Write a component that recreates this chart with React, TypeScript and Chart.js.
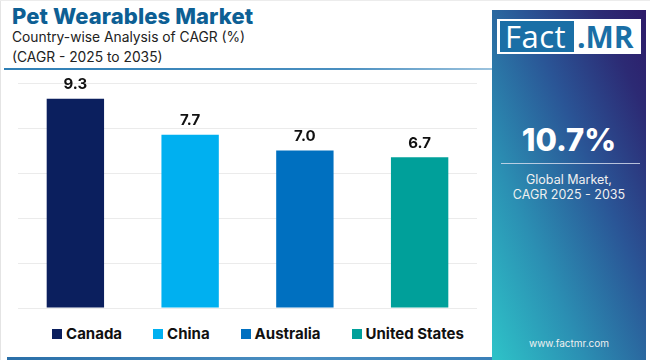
import React, { useEffect, useRef } from "react";
import { Chart, registerables } from "chart.js";

Chart.register(...registerables);

const categories = ["Canada", "China", "Australia", "United States"];
const cagrValues = [9.3, 7.7, 7.0, 6.7];
const barColors = ["#0b1f5e", "#00b0f0", "#0070c0", "#00a09a"];
const yTicks = [0, 2, 4, 6, 8, 10];
const globalCagr = "10.7%";

const FONT = "Inter, 'Open Sans', sans-serif";

const valueLabelPlugin = {
  id: "valueLabels",
  afterDatasetsDraw(chart: any) {
    const { ctx } = chart;
    const meta = chart.getDatasetMeta(0);
    ctx.save();
    ctx.font = `bold 15px ${FONT}`;
    ctx.fillStyle = "#111111";
    ctx.textAlign = "center";
    ctx.textBaseline = "middle";
    meta.data.forEach((bar: any, i: number) => {
      const v = chart.data.datasets[0].data[i] as number;
      ctx.fillText(v.toFixed(1), bar.x, bar.y - 14);
    });
    ctx.restore();
  },
};

export default function App() {
  const canvasRef = useRef<HTMLCanvasElement | null>(null);

  useEffect(() => {
    if (!canvasRef.current) return;
    const chart = new Chart(canvasRef.current, {
      type: "bar",
      data: {
        labels: categories,
        datasets: [
          {
            label: "CAGR",
            data: cagrValues,
            backgroundColor: barColors,
            borderWidth: 0,
            categoryPercentage: 1,
            barPercentage: 0.5,
          },
        ],
      },
      options: {
        animation: false,
        responsive: false,
        layout: { padding: { top: 83, bottom: 12, left: 18, right: 13 } },
        plugins: {
          legend: { display: false },
          tooltip: { enabled: false },
        },
        scales: {
          x: { display: false },
          y: {
            min: yTicks[0],
            max: yTicks[yTicks.length - 1],
            afterBuildTicks: (axis: any) => {
              axis.ticks = yTicks.map((v) => ({ value: v }));
            },
            afterFit: (axis: any) => {
              axis.width = 0;
            },
            ticks: { display: false },
            grid: { color: "#ebebeb", drawTicks: false, lineWidth: 1 },
            border: { display: false },
          },
        },
      },
      plugins: [valueLabelPlugin],
    });
    return () => chart.destroy();
  }, []);

  return (
    <div
      style={{
        position: "fixed",
        left: 0,
        top: 0,
        width: 650,
        height: 360,
        background: "#ffffff",
        overflow: "hidden",
        fontFamily: FONT,
      }}
    >
      <div style={{ position: "absolute", left: 0, top: 0, width: 1, height: 360, background: "#e4e4e4" }} />
      <div style={{ position: "absolute", left: 0, top: 0, width: 650, height: 1, background: "#ececec" }} />
      <div
        style={{
          position: "absolute",
          left: 12,
          top: 3,
          fontSize: 22,
          fontWeight: 800,
          color: "#0d5f94",
          whiteSpace: "nowrap",
          letterSpacing: 0.1,
        }}
      >
        Pet Wearables Market
      </div>
      <div
        style={{
          position: "absolute",
          left: 12,
          top: 27,
          fontSize: 13.8,
          lineHeight: "20px",
          color: "#222222",
          whiteSpace: "nowrap",
        }}
      >
        Country-wise Analysis of CAGR (%)
        <br />
        (CAGR - 2025 to 2035)
      </div>
      <div
        style={{
          position: "absolute",
          left: 4,
          top: 68,
          width: 488,
          height: 2,
          background: "linear-gradient(to right, #2f7fb5, #4a8fc0 70%, #9cc3de)",
        }}
      />
      <canvas
        ref={canvasRef}
        width={490}
        height={320}
        style={{ position: "absolute", left: 0, top: 0, width: 490, height: 320 }}
      />
      <div
        style={{
          position: "absolute",
          left: 0,
          width: 516,
          top: 324,
          display: "flex",
          justifyContent: "center",
          gap: 31,
          fontSize: 15,
          fontWeight: 700,
          color: "#111111",
          whiteSpace: "nowrap",
        }}
      >
        {categories.map((c, i) => (
          <div key={c} style={{ display: "flex", alignItems: "center", gap: 4, height: 18 }}>
            <span style={{ width: 10, height: 10, background: barColors[i], display: "inline-block", marginTop: 1 }} />
            <span>{c}</span>
          </div>
        ))}
      </div>
      <div
        style={{
          position: "absolute",
          left: 7,
          top: 357,
          width: 486,
          height: 3,
          background: "linear-gradient(to right, #2a6fa8, #4b8fc2 60%, #3a7fb8)",
        }}
      />
      <div
        style={{
          position: "absolute",
          left: 492,
          top: 10,
          width: 154,
          height: 350,
          background:
            "linear-gradient(to top right, #2ec3c8 0%, #2b8fb3 30%, #2a5596 60%, #2c2a74 85%, #2d1b69 100%)",
        }}
      >
        <div
          style={{
            position: "absolute",
            left: 5,
            top: 9,
            width: 144,
            height: 35,
            background: "#ffffff",
          }}
        >
          <div
            style={{
              position: "absolute",
              left: 3,
              top: 2,
              width: 74,
              height: 31,
              background: "#1a6fa6",
            }}
          />
          <div
            style={{
              position: "absolute",
              left: 8,
              top: 0,
              height: 35,
              lineHeight: "35px",
              fontSize: 31,
              color: "#ffffff",
              fontFamily: "'Open Sans', sans-serif",
              letterSpacing: 0.5,
            }}
          >
            Fact
          </div>
          <div
            style={{
              position: "absolute",
              left: 80,
              top: 0,
              height: 35,
              lineHeight: "35px",
              fontSize: 30,
              fontWeight: 700,
              color: "#1a6fa6",
              fontFamily: "'Open Sans', sans-serif",
            }}
          >
            .MR
          </div>
        </div>
        <div
          style={{
            position: "absolute",
            left: 0,
            width: 154,
            top: 110,
            textAlign: "center",
            fontSize: 31,
            fontWeight: 800,
            color: "#ffffff",
            lineHeight: "40px",
          }}
        >
          {globalCagr}
        </div>
        <div
          style={{
            position: "absolute",
            left: 9,
            top: 153,
            width: 139,
            height: 1,
            background: "rgba(220,225,240,0.8)",
          }}
        />
        <div
          style={{
            position: "absolute",
            left: 0,
            width: 154,
            top: 162,
            textAlign: "center",
            fontSize: 12.5,
            lineHeight: "15px",
            color: "#f0f0f0",
          }}
        >
          Global Market,
          <br />
          CAGR 2025 - 2035
        </div>
        <div
          style={{
            position: "absolute",
            left: 0,
            width: 154,
            top: 327,
            textAlign: "center",
            fontSize: 10,
            color: "#f0f0f0",
          }}
        >
          www.factmr.com
        </div>
      </div>
    </div>
  );
}
